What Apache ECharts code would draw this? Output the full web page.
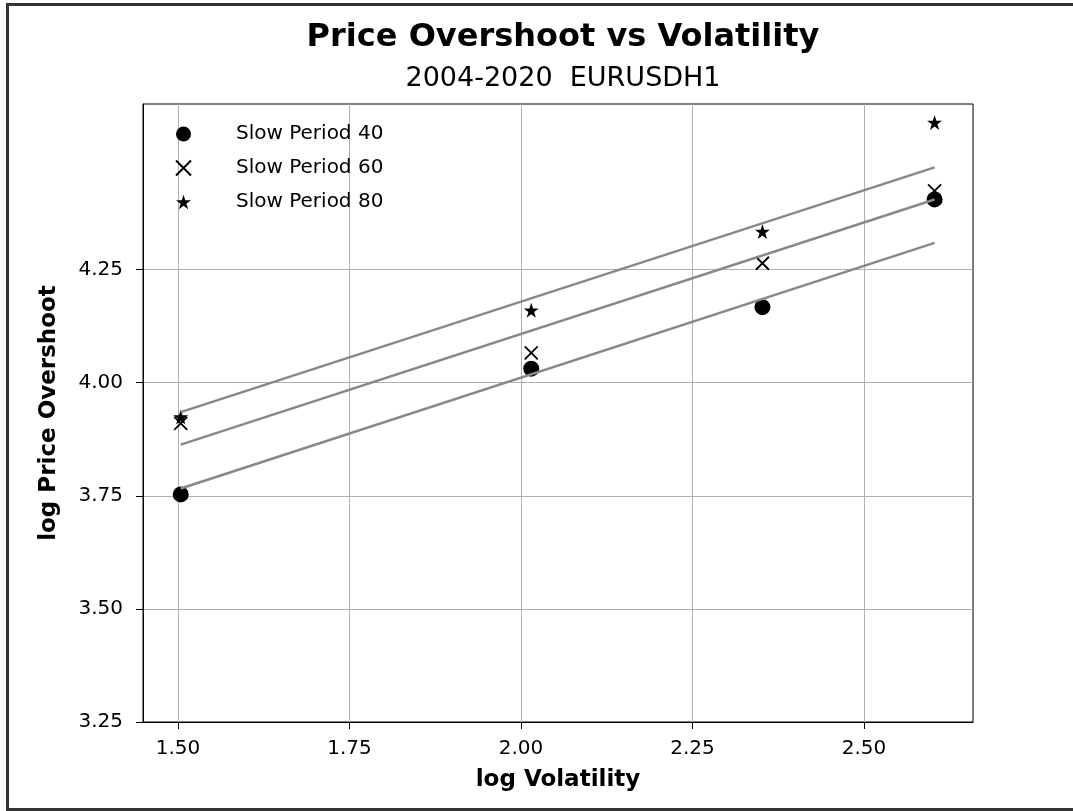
<!DOCTYPE html>
<html>
<head>
<meta charset="utf-8">
<title>Price Overshoot vs Volatility</title>
<script src="https://cdn.jsdelivr.net/npm/echarts@6/dist/echarts.min.js"></script>
<style>
  html, body { margin: 0; padding: 0; background: #fff; }
  #chart { width: 1073px; height: 811px; }
</style>
</head>
<body>
<div id="chart"></div>
<script>
// log volatility for each test run
const volatility = [1.504, 2.015, 2.352, 2.603];
// log price overshoot per slow period
const overshoot40 = [3.753, 4.031, 4.167, 4.405];
const overshoot60 = [3.910, 4.066, 4.264, 4.424];
const overshoot80 = [3.924, 4.160, 4.334, 4.575];
// fitted lines (endpoints)
const fitX = [1.504, 2.603];
const fit40 = [3.766, 4.309];
const fit60 = [3.863, 4.405];
const fit80 = [3.935, 4.476];
// tick labels
const xTicks = [1.50, 1.75, 2.00, 2.25, 2.50];
const yTicks = [3.25, 3.50, 3.75, 4.00, 4.25];

const FONT = 'DejaVu Sans';

function pairs(xs, ys) { return xs.map((x, i) => [x, ys[i]]); }

// five-pointed star symbol
function starPath() {
  const pts = [];
  for (let i = 0; i < 10; i++) {
    const r = i % 2 === 0 ? 1 : 0.381966;
    const a = -Math.PI / 2 + i * Math.PI / 5;
    pts.push((r * Math.cos(a)).toFixed(4) + ',' + (r * Math.sin(a)).toFixed(4));
  }
  return 'path://M' + pts.join('L') + 'Z';
}
const crossPath = 'path://M0,0L10,10M10,0L0,10';

const chart = echarts.init(document.getElementById('chart'), null, { renderer: 'canvas' });

function fitSeries(ys) {
  return {
    type: 'line', data: pairs(fitX, ys), symbol: 'none', silent: true,
    lineStyle: { color: '#888888', width: 2.5 }, z: 4, legendHoverLink: false
  };
}

chart.setOption({
  backgroundColor: '#ffffff',
  animation: false,
  textStyle: { fontFamily: FONT },
  title: [{
    text: 'Price Overshoot vs Volatility',
    left: 558, top: 17, textAlign: 'center',
    textStyle: { fontFamily: FONT, fontSize: 32, fontWeight: 'bold', color: '#000' }
  }, {
    text: '2004-2020  EURUSDH1',
    left: 558, top: 60, textAlign: 'center',
    textStyle: { fontFamily: FONT, fontSize: 27, fontWeight: 'normal', color: '#000' }
  }],
  graphic: [{
    type: 'rect', silent: true,
    shape: { x: 7.5, y: 4.5, width: 1075, height: 805 },
    style: { fill: 'none', stroke: '#333', lineWidth: 3 }
  }],
  legend: {
    orient: 'vertical', left: 170, top: 119, itemGap: 14,
    itemWidth: 15, itemHeight: 15,
    data: ['Slow Period 40', 'Slow Period 60', 'Slow Period 80'],
    formatter: name => '{g|}{t|' + name + '}',
    textStyle: {
      fontFamily: FONT, fontSize: 20, color: '#000',
      rich: { g: { width: 40 }, t: { fontFamily: FONT, fontSize: 20, color: '#000' } }
    }
  },
  grid: {
    left: 143, right: 100, top: 104, bottom: 89,
    show: true, borderColor: '#000', borderWidth: 1, backgroundColor: 'transparent'
  },
  xAxis: {
    type: 'value', min: 1.449, max: 2.659,
    name: 'log Volatility', nameLocation: 'middle', nameGap: 47,
    nameTextStyle: { fontFamily: FONT, fontSize: 23, fontWeight: 'bold', color: '#000' },
    axisLine: { show: true, onZero: false, lineStyle: { color: '#000', width: 1 } },
    axisTick: { show: true, length: 7, customValues: xTicks, lineStyle: { color: '#000' } },
    axisLabel: {
      customValues: xTicks, margin: 17, color: '#000', fontFamily: FONT, fontSize: 20,
      formatter: v => v.toFixed(2)
    },
    splitLine: { show: true, lineStyle: { color: '#b0b0b0', width: 1 } }
  },
  yAxis: {
    type: 'value', min: 3.25, max: 4.616,
    name: 'log Price Overshoot', nameLocation: 'middle', nameGap: 82,
    nameTextStyle: { fontFamily: FONT, fontSize: 23, fontWeight: 'bold', color: '#000' },
    axisLine: { show: true, onZero: false, lineStyle: { color: '#000', width: 1 } },
    axisTick: { show: true, length: 7, customValues: yTicks, lineStyle: { color: '#000' } },
    axisLabel: {
      customValues: yTicks, margin: 20, color: '#000', fontFamily: FONT, fontSize: 20,
      formatter: v => v.toFixed(2)
    },
    splitLine: { show: true, lineStyle: { color: '#b0b0b0', width: 1 } }
  },
  series: [{
    name: 'Slow Period 40', type: 'scatter', data: pairs(volatility, overshoot40),
    symbol: 'circle', symbolSize: 16, itemStyle: { color: '#000', opacity: 1 }, z: 3
  }, {
    name: 'Slow Period 60', type: 'scatter', data: pairs(volatility, overshoot60),
    symbol: crossPath, symbolSize: 13,
    itemStyle: { color: 'rgba(0,0,0,0)', borderColor: '#000', borderWidth: 1.8, opacity: 1 }, z: 3
  }, {
    name: 'Slow Period 80', type: 'scatter', data: pairs(volatility, overshoot80),
    symbol: starPath(), symbolSize: 15, itemStyle: { color: '#000', opacity: 1 }, z: 3
  },
  fitSeries(fit40), fitSeries(fit60), fitSeries(fit80)]
});
</script>
</body>
</html>
